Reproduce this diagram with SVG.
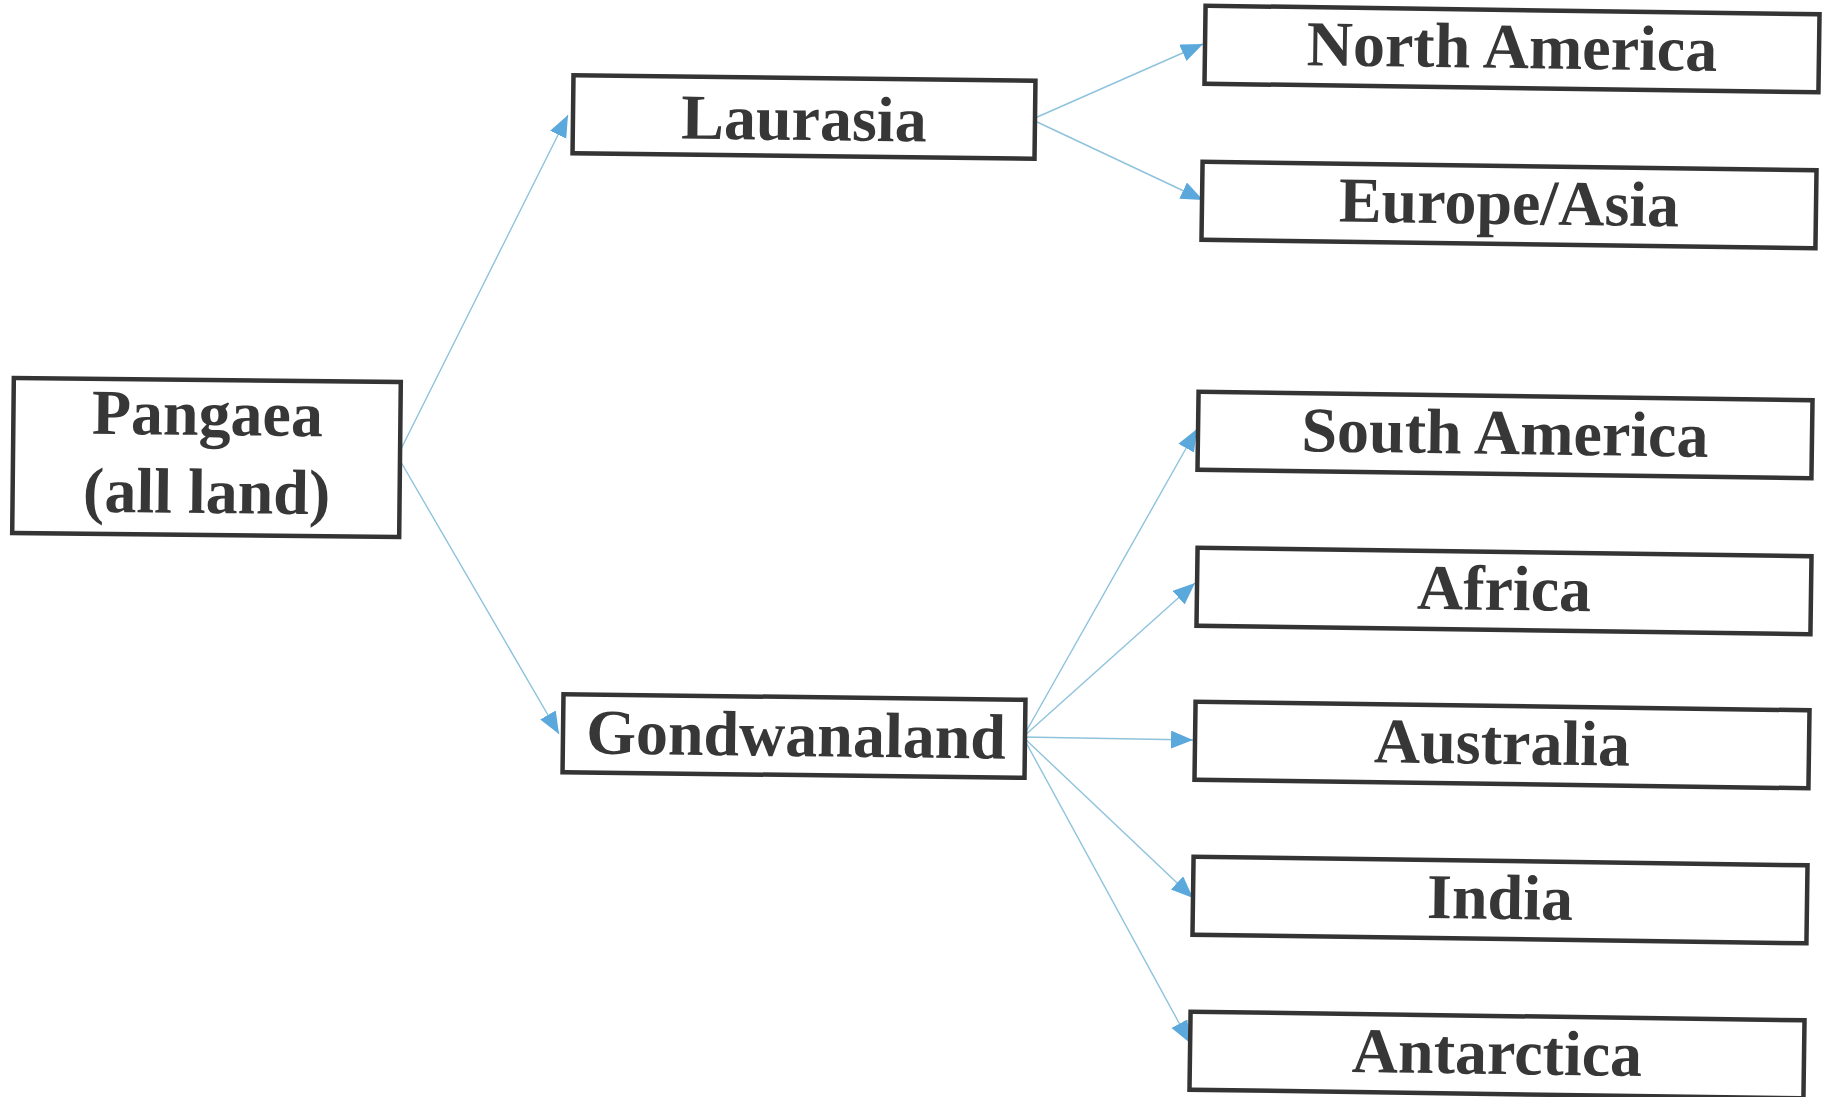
<svg xmlns="http://www.w3.org/2000/svg" width="1832" height="1097" viewBox="0 0 1832 1097">
<style>
.box{fill:#fff;stroke:#343434;stroke-width:4.5}
.lbl{font-family:"Liberation Serif","Times New Roman",serif;font-weight:bold;font-size:64px;fill:#373737;text-anchor:middle}
.conn{stroke:#8ec3dc;stroke-width:1.4;fill:none;marker-end:url(#ah)}
</style>
<defs>
<marker id="ah" markerUnits="userSpaceOnUse" markerWidth="24" markerHeight="20" refX="22" refY="9" orient="auto">
<path d="M0,0 L22,9 L0,18 z" fill="#5aa8dc"/>
</marker>
</defs>
<rect width="1832" height="1097" fill="#fff"/>
<g id="connectors">
<line class="conn" x1="398" y1="455" x2="568" y2="115"/>
<line class="conn" x1="398" y1="457" x2="559" y2="734"/>
<line class="conn" x1="1035" y1="118" x2="1203" y2="44"/>
<line class="conn" x1="1035" y1="121" x2="1203" y2="200"/>
<line class="conn" x1="1023" y1="737" x2="1197" y2="429"/>
<line class="conn" x1="1023" y1="737" x2="1195" y2="583"/>
<line class="conn" x1="1023" y1="737" x2="1193" y2="740"/>
<line class="conn" x1="1023" y1="737" x2="1193" y2="898"/>
<line class="conn" x1="1023" y1="737" x2="1190" y2="1043"/>
</g>
<g id="pangaea" transform="rotate(0.6 206.5 457.5)">
<rect class="box" x="13" y="380" width="387" height="155"/>
<text class="lbl" x="207" y="435">Pangaea</text>
<text class="lbl" x="207" y="513">(all land)</text>
</g>
<g id="laurasia" transform="rotate(0.7 804 117)">
<rect class="box" x="573" y="78" width="462" height="78"/>
<text class="lbl" x="804" y="140">Laurasia</text>
</g>
<g id="gondwanaland" transform="rotate(0.7 794 736)">
<rect class="box" x="563" y="697" width="462" height="78"/>
<text class="lbl" x="796" y="756">Gondwanaland</text>
</g>
<g id="north-america" transform="rotate(0.8 1512 49)">
<rect class="box" x="1205" y="10" width="614" height="78"/>
<text class="lbl" x="1512" y="68">North America</text>
</g>
<g id="europe-asia" transform="rotate(0.8 1509 205)">
<rect class="box" x="1202" y="166" width="614" height="78"/>
<text class="lbl" x="1509" y="224">Europe/Asia</text>
</g>
<g id="south-america" transform="rotate(0.8 1505 435)">
<rect class="box" x="1198" y="396" width="614" height="78"/>
<text class="lbl" x="1505" y="454">South America</text>
</g>
<g id="africa" transform="rotate(0.8 1504 591)">
<rect class="box" x="1197" y="552" width="614" height="78"/>
<text class="lbl" x="1504" y="610">Africa</text>
</g>
<g id="australia" transform="rotate(0.8 1502 745)">
<rect class="box" x="1195" y="706" width="614" height="78"/>
<text class="lbl" x="1502" y="764">Australia</text>
</g>
<g id="india" transform="rotate(0.8 1500 900)">
<rect class="box" x="1193" y="861" width="614" height="78"/>
<text class="lbl" x="1500" y="919">India</text>
</g>
<g id="antarctica" transform="rotate(0.8 1497 1055)">
<rect class="box" x="1190" y="1016" width="614" height="78"/>
<text class="lbl" x="1497" y="1074">Antarctica</text>
</g>
</svg>
